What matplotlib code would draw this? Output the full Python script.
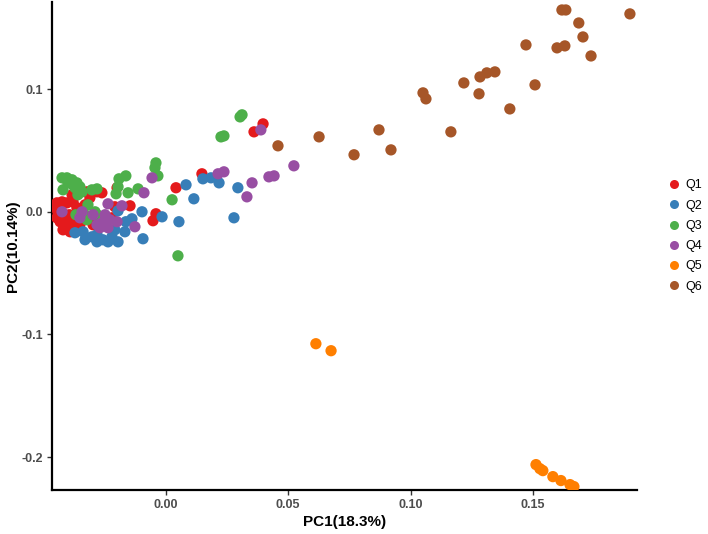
import matplotlib
matplotlib.use("Agg")
import matplotlib.pyplot as plt
from matplotlib.lines import Line2D

plt.rcParams['font.family'] = ['Liberation Sans', 'DejaVu Sans']

groups = ["Q1", "Q2", "Q3", "Q4", "Q5", "Q6"]
colors = ["#E41A1C", "#377EB8", "#4DAF4A", "#984EA3", "#FF7F00", "#A65628"]

q1_x = [0.0397, 0.0360, 0.0147, 0.0041, -0.0041, -0.0053, -0.0147, -0.0200, -0.0262,
        -0.0323, -0.0282, -0.0311, -0.0209, -0.0221,
        -0.0446, -0.0425, -0.0405, -0.0442, -0.0413, -0.0433, -0.0405, -0.0380, -0.0364,
        -0.0446, -0.0421, -0.0392, -0.0372, -0.0352, -0.0331, -0.0384, -0.0343, -0.0298, -0.0253,
        -0.0446, -0.0425, -0.0395, -0.0410, -0.0380, -0.0430, -0.0365]
q1_y = [0.0717, 0.0652, 0.0310, 0.0196, -0.0016, -0.0073, 0.0049, 0.0196, 0.0155,
        0.0163, 0.0163, 0.0114, 0.0041, -0.0049,
        0.0073, 0.0081, 0.0073, 0.0000, -0.0024, -0.0081, -0.0106, 0.0081, 0.0033,
        -0.0049, -0.0147, -0.0163, -0.0081, -0.0106, 0.0057, 0.0139, 0.0000, -0.0106, -0.0049,
        0.0024, -0.0033, -0.0024, -0.0130, -0.0130, 0.0040, -0.0050]

q2_x = [0.0082, 0.0151, 0.0184, 0.0217, 0.0294, 0.0114, 0.0278, 0.0053, -0.0016, -0.0098,
        -0.0094, -0.0139, -0.0196, -0.0282, -0.0258, -0.0221, -0.0196, -0.0168, -0.0209,
        -0.0372, -0.0339, -0.0331, -0.0303, -0.0282, -0.0237, -0.0164, -0.0249]
q2_y = [0.0220, 0.0269, 0.0277, 0.0236, 0.0196, 0.0106, -0.0049, -0.0081, -0.0041, 0.0000,
        -0.0220, -0.0057, 0.0008, -0.0187, -0.0228, -0.0204, -0.0245, -0.0163, -0.0147,
        -0.0171, -0.0163, -0.0228, -0.0204, -0.0245, -0.0245, -0.0081, -0.0106]

q3_x = [0.0311, 0.0303, 0.0237, 0.0225, -0.0041, -0.0045, -0.0033, 0.0025, 0.0049,
        -0.0114, -0.0155, -0.0164, -0.0192, -0.0204, -0.0282, -0.0303, -0.0196,
        -0.0425, -0.0405, -0.0384, -0.0364, -0.0352, -0.0343, -0.0360, -0.0372, -0.0421,
        -0.0401, -0.0380, -0.0319, -0.0331, -0.0323, -0.0368, -0.0290, -0.0282, -0.0262]
q3_y = [0.0791, 0.0774, 0.0619, 0.0611, 0.0399, 0.0359, 0.0293, 0.0098, -0.0359,
        0.0187, 0.0155, 0.0293, 0.0269, 0.0147, 0.0187, 0.0179, 0.0204,
        0.0277, 0.0277, 0.0261, 0.0236, 0.0204, 0.0163, 0.0139, 0.0196, 0.0179,
        0.0236, 0.0220, 0.0057, -0.0024, -0.0065, -0.0024, 0.0000, -0.0024, -0.0049]

q4_x = [0.0388, 0.0237, 0.0213, 0.0523, 0.0442, 0.0421, 0.0352, 0.0331, -0.0057, -0.0090,
        -0.0127, -0.0237, -0.0180, -0.0425, -0.0343, -0.0352, -0.0282, -0.0298, -0.0249,
        -0.0262, -0.0237, -0.0200, -0.0229, -0.0270]
q4_y = [0.0668, 0.0326, 0.0310, 0.0375, 0.0293, 0.0285, 0.0236, 0.0122, 0.0277, 0.0155,
        -0.0122, 0.0065, 0.0049, 0.0000, 0.0000, -0.0049, -0.0106, -0.0024, -0.0024,
        -0.0090, -0.0130, -0.0081, -0.0065, -0.0130]

q5_x = [0.0613, 0.0675, 0.1513, 0.1529, 0.1541, 0.1582, 0.1615, 0.1652, 0.1668]
q5_y = [-0.1076, -0.1133, -0.2062, -0.2095, -0.2111, -0.2160, -0.2192, -0.2225, -0.2241]

q6_x = [0.0458, 0.0626, 0.0769, 0.0871, 0.0920, 0.1051, 0.1063, 0.1165, 0.1218, 0.1280,
        0.1284, 0.1312, 0.1345, 0.1406, 0.1472, 0.1509, 0.1599, 0.1631, 0.1619, 0.1635,
        0.1688, 0.1705, 0.1738, 0.1897]
q6_y = [0.0538, 0.0611, 0.0465, 0.0668, 0.0505, 0.0970, 0.0921, 0.0652, 0.1051, 0.0962,
        0.1100, 0.1133, 0.1141, 0.0839, 0.1361, 0.1035, 0.1337, 0.1353, 0.1646, 0.1646,
        0.1540, 0.1426, 0.1271, 0.1614]

xs = [q1_x, q2_x, q3_x, q4_x, q5_x, q6_x]
ys = [q1_y, q2_y, q3_y, q4_y, q5_y, q6_y]

fig = plt.figure(figsize=(7.08, 5.34), dpi=100)
ax = fig.add_axes([52/708, 44/534, (637-52)/708, (490-2)/534])

for x, y, c in zip(xs, ys, colors):
    ax.scatter(x, y, s=66, color=c, edgecolors='none', zorder=3)

ax.set_xlim(-0.0466, 0.1926)
ax.set_ylim(-0.2269, 0.1711)
ax.set_xticks([0.0, 0.05, 0.10, 0.15])
ax.set_xticklabels(["0.00", "0.05", "0.10", "0.15"])
ax.set_yticks([-0.2, -0.1, 0.0, 0.1])
ax.set_yticklabels(["-0.2", "-0.1", "0.0", "0.1"])

for s in ["top", "right"]:
    ax.spines[s].set_visible(False)
for s in ["left", "bottom"]:
    ax.spines[s].set_linewidth(1.6)
    ax.spines[s].set_color("black")

ax.tick_params(axis='both', direction='out', length=3.5, width=1.0, color='#333333',
               labelsize=9, labelcolor='#4D4D4D', pad=3)
for lab in ax.get_xticklabels() + ax.get_yticklabels():
    lab.set_fontweight('bold')

ax.set_xlabel("PC1(18.3%)", fontsize=11, fontweight='bold', labelpad=3)
ax.set_ylabel("PC2(10.14%)", fontsize=11, fontweight='bold', labelpad=1)

handles = [Line2D([0], [0], marker='o', linestyle='none', markersize=6.5,
                  markerfacecolor=c, markeredgecolor='none') for c in colors]
fig.legend(handles, groups, loc='center left', bbox_to_anchor=(658/708, 1 - 236/534),
           frameon=False, fontsize=9, labelspacing=0.66, handletextpad=0.15,
           handlelength=1.5, borderpad=0)

fig.savefig("out.png", dpi=100)
